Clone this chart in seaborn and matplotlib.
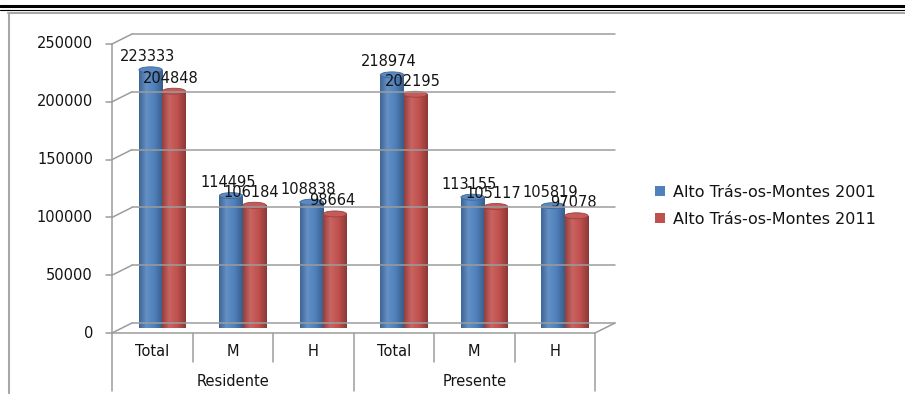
import numpy as np
import pandas as pd
import matplotlib
matplotlib.use("Agg")
import matplotlib.pyplot as plt
import seaborn as sns
from matplotlib.patches import Ellipse, Patch
from matplotlib.lines import Line2D
from matplotlib.colors import LinearSegmentedColormap, to_rgb

# ---- data -------------------------------------------------------------
groups = ["Residente", "Presente"]
categories = ["Total", "M", "H"]
series = ["Alto Trás-os-Montes 2001", "Alto Trás-os-Montes 2011"]
values_2001 = [223333, 114495, 108838, 218974, 113155, 105819]
values_2011 = [204848, 106184, 98664, 202195, 105117, 97078]
y_ticks = [0, 50000, 100000, 150000, 200000, 250000]

keys = [f"{g} {c}" for g in groups for c in categories]
df = pd.DataFrame({
    "key": keys * 2,
    "valor": values_2001 + values_2011,
    "serie": [series[0]] * len(keys) + [series[1]] * len(keys),
})
palette = {series[0]: "#4F81BD", series[1]: "#C0504D"}

# ---- figure -----------------------------------------------------------
sns.set_theme(style="white")
plt.rcParams["font.family"] = ["DejaVu Sans"]

W, H = 905, 394
fig = plt.figure(figsize=(W / 100, H / 100), dpi=100)
ax = fig.add_axes([122 / W, 66 / H, 483 / W, 289 / H])

sns.barplot(data=df, x="key", y="valor", hue="serie", order=keys,
            hue_order=series, palette=palette, width=0.58, saturation=1,
            errorbar=None, legend=False, ax=ax)
ax.set_xlim(-0.5, 5.5)
ax.set_ylim(0, 250000)
ax.set_axis_off()

TXT = "#141414"
GRID = "#9c9c9c"
DX, DY = 10, 5  # depth offset (pixels) between mid plane and front/back walls


def px(x, v, d):
    """Pixel position of data point (x, v) on plane d (-1 front, 0 mid, 1 back)."""
    p = ax.transData.transform((x, v))
    return p[0] + d * DX, p[1] + d * DY


def seg(p0, p1, **kw):
    kw.setdefault("color", GRID)
    kw.setdefault("lw", 1.1)
    fig.add_artist(Line2D([p0[0] / W, p1[0] / W], [p0[1] / H, p1[1] / H],
                          transform=fig.transFigure, **kw))


# back-wall gridlines and side-wall diagonals
for v in y_ticks:
    seg(px(-0.5, v, 1), px(5.5, v, 1))
    seg(px(-0.5, v, -1), px(-0.5, v, 1))
    fx, fy = px(-0.5, v, -1)
    seg((fx - 6, fy), (fx, fy))
    fig.text((fx - 19) / W, fy / H, f"{v}", ha="right", va="center",
             fontsize=10.5, color=TXT)

# floor front edge and right diagonal
seg(px(-0.5, 0, -1), px(5.5, 0, -1))
seg(px(5.5, 0, -1), px(5.5, 0, 1))

# front vertical axis line
top = px(-0.5, 250000, -1)
seg(top, (top[0], 3))

# category separators
floor_y = px(0, 0, -1)[1]
for b in [0.5, 1.5, 2.5, 3.5, 4.5, 5.5]:
    bx = px(b, 0, -1)[0]
    bottom = 3 if b in (2.5, 5.5) else 32
    seg((bx, floor_y), (bx, bottom))

for i, c in enumerate(categories * 2):
    cx = px(i, 0, -1)[0]
    fig.text(cx / W, 42 / H, c, ha="center", va="center", fontsize=10.5, color=TXT)
for j, g in enumerate(groups):
    cx = px(1 + 3 * j, 0, -1)[0]
    fig.text(cx / W, 13 / H, g, ha="center", va="center", fontsize=10.5, color=TXT)


# ---- cylinder shading -------------------------------------------------
def shade(rgb, f):
    r = np.array(rgb)
    if f >= 1:
        return tuple(r + (1 - r) * (f - 1))
    return tuple(r * f)


ell_h = 6 * 250000 / 289
grad = np.linspace(0, 1, 64).reshape(1, -1)
for container, name in zip(ax.containers, series):
    base = to_rgb(palette[name])
    cmap = LinearSegmentedColormap.from_list(
        name, [(0.0, shade(base, 0.78)), (0.3, shade(base, 1.12)),
               (0.65, shade(base, 1.0)), (1.0, shade(base, 0.72))])
    vals = values_2001 if name == series[0] else values_2011
    for bar, v in zip(container, vals):
        x0, w = bar.get_x(), bar.get_width()
        cx = x0 + w / 2
        bar.set_edgecolor("none")
        im = ax.imshow(grad, extent=[x0, x0 + w, 0, v], aspect="auto",
                       cmap=cmap, zorder=3, interpolation="bilinear")
        im.set_clip_path(bar)
        foot = Ellipse((cx, 0), w, ell_h, facecolor="none", edgecolor="none", zorder=3)
        ax.add_patch(foot)
        im2 = ax.imshow(grad, extent=[x0, x0 + w, -ell_h, 0], aspect="auto",
                        cmap=cmap, zorder=2.9, interpolation="bilinear")
        im2.set_clip_path(foot)
        cap = Ellipse((cx, v), w, ell_h, facecolor=shade(base, 1.06),
                      edgecolor=shade(base, 0.8), lw=0.6, zorder=4)
        ax.add_patch(cap)
        ax.annotate(f"{v}", (cx, v), xytext=(-3, 13), textcoords="offset pixels",
                    ha="center", va="center", fontsize=10.5, color=TXT,
                    zorder=6, annotation_clip=False)

ax.set_xlim(-0.5, 5.5)
ax.set_ylim(0, 250000)
for a in ax.get_children():
    if hasattr(a, "set_clip_on") and not isinstance(a, matplotlib.image.AxesImage):
        a.set_clip_on(False)

# ---- legend -----------------------------------------------------------
handles = [Patch(facecolor=palette[s], edgecolor="none") for s in series]
fig.legend(handles, series, loc="upper left", bbox_to_anchor=(655 / W, 1 - 185 / H),
           frameon=False, fontsize=11.5, handlelength=0.6, handleheight=0.6,
           handletextpad=0.55, labelspacing=0.75, borderpad=0, borderaxespad=0,
           labelcolor=TXT)

# ---- page rules and chart frame --------------------------------------
fig.add_artist(Line2D([0, 1], [1 - 6 / H] * 2, color="black", lw=2.2,
                      transform=fig.transFigure))
fig.add_artist(Line2D([0, 1], [1 - 9.5 / H] * 2, color="black", lw=0.8,
                      transform=fig.transFigure))
fig.add_artist(Line2D([8 / W, 1], [1 - 12.5 / H] * 2, color="#a8a8a8", lw=1.5,
                      transform=fig.transFigure))
fig.add_artist(Line2D([8.5 / W] * 2, [0, 1 - 12.5 / H], color="#a8a8a8", lw=1.5,
                      transform=fig.transFigure))

fig.savefig("out.png", dpi=100)
